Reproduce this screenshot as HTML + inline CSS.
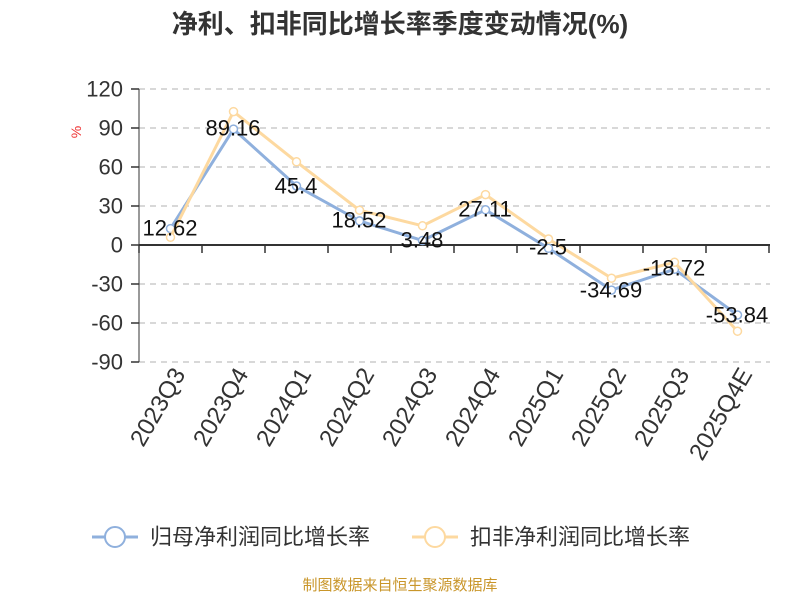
<!DOCTYPE html>
<html><head><meta charset="utf-8"><style>body{margin:0;background:#fff}svg{display:block}</style></head><body>
<svg width="800" height="600" xmlns="http://www.w3.org/2000/svg" font-family="Liberation Sans, Noto Sans CJK SC, sans-serif">
<text x="400" y="33" text-anchor="middle" font-size="26" font-weight="bold" fill="#333">净利、扣非同比增长率季度变动情况(%)</text>
<g stroke="#ccc" stroke-dasharray="6,5" stroke-width="1.5">
<line x1="139" x2="770" y1="89" y2="89"/><line x1="139" x2="770" y1="128" y2="128"/><line x1="139" x2="770" y1="167" y2="167"/><line x1="139" x2="770" y1="206" y2="206"/><line x1="139" x2="770" y1="284" y2="284"/><line x1="139" x2="770" y1="323" y2="323"/><line x1="139" x2="770" y1="362" y2="362"/>
</g>
<line x1="139" y1="89" x2="139" y2="362" stroke="#333" stroke-width="1"/>
<line x1="139" y1="245" x2="770" y2="245" stroke="#333" stroke-width="2"/>
<g stroke="#333" stroke-width="1.5">
<line x1="139" x2="139" y1="245" y2="253"/><line x1="202" x2="202" y1="245" y2="253"/><line x1="265" x2="265" y1="245" y2="253"/><line x1="328" x2="328" y1="245" y2="253"/><line x1="391" x2="391" y1="245" y2="253"/><line x1="454" x2="454" y1="245" y2="253"/><line x1="517" x2="517" y1="245" y2="253"/><line x1="580" x2="580" y1="245" y2="253"/><line x1="643" x2="643" y1="245" y2="253"/><line x1="706" x2="706" y1="245" y2="253"/><line x1="769" x2="769" y1="245" y2="253"/>
<line x1="131" x2="139" y1="89" y2="89"/><line x1="131" x2="139" y1="128" y2="128"/><line x1="131" x2="139" y1="167" y2="167"/><line x1="131" x2="139" y1="206" y2="206"/><line x1="131" x2="139" y1="245" y2="245"/><line x1="131" x2="139" y1="284" y2="284"/><line x1="131" x2="139" y1="323" y2="323"/><line x1="131" x2="139" y1="362" y2="362"/>
</g>
<g font-size="22" fill="#333" text-anchor="end" dominant-baseline="central">
<text x="123" y="89">120</text><text x="123" y="128">90</text><text x="123" y="167">60</text><text x="123" y="206">30</text><text x="123" y="245">0</text><text x="123" y="284">-30</text><text x="123" y="323">-60</text><text x="123" y="362">-90</text>
</g>
<text transform="translate(76,132) rotate(-90)" font-size="14" fill="#e33" text-anchor="middle" dominant-baseline="central">%</text>
<g font-size="24" fill="#333" text-anchor="end">
<text transform="translate(186,374) rotate(-60)">2023Q3</text>
<text transform="translate(249,374) rotate(-60)">2023Q4</text>
<text transform="translate(312,374) rotate(-60)">2024Q1</text>
<text transform="translate(375,374) rotate(-60)">2024Q2</text>
<text transform="translate(438,374) rotate(-60)">2024Q3</text>
<text transform="translate(501,374) rotate(-60)">2024Q4</text>
<text transform="translate(564,374) rotate(-60)">2025Q1</text>
<text transform="translate(627,374) rotate(-60)">2025Q2</text>
<text transform="translate(690,374) rotate(-60)">2025Q3</text>
<text transform="translate(753,374) rotate(-60)">2025Q4E</text>
</g>
<g fill="#fff" stroke-width="3">
<polyline fill="none" stroke="#8fb0dd" points="170.5,228.6 233.5,129.1 296.5,186 359.5,220.9 422.5,240.5 485.5,209.8 548.5,248.3 611.5,290.1 674.5,269.3 737.5,315"/>
<g stroke="#8fb0dd" stroke-width="1.5"><circle cx="170.5" cy="228.6" r="4"/><circle cx="233.5" cy="129.1" r="4"/><circle cx="296.5" cy="186" r="4"/><circle cx="359.5" cy="220.9" r="4"/><circle cx="422.5" cy="240.5" r="4"/><circle cx="485.5" cy="209.8" r="4"/><circle cx="548.5" cy="248.3" r="4"/><circle cx="611.5" cy="290.1" r="4"/><circle cx="674.5" cy="269.3" r="4"/><circle cx="737.5" cy="315" r="4"/></g>
<polyline fill="none" stroke="#fdd9a0" points="170.5,237.3 233.5,111.6 296.5,161.8 359.5,210.2 422.5,225.8 485.5,194.6 548.5,239 611.5,278.2 674.5,262.3 737.5,331.2"/>
<g stroke="#fdd9a0" stroke-width="1.5"><circle cx="170.5" cy="237.3" r="4"/><circle cx="233.5" cy="111.6" r="4"/><circle cx="296.5" cy="161.8" r="4"/><circle cx="359.5" cy="210.2" r="4"/><circle cx="422.5" cy="225.8" r="4"/><circle cx="485.5" cy="194.6" r="4"/><circle cx="548.5" cy="239" r="4"/><circle cx="611.5" cy="278.2" r="4"/><circle cx="674.5" cy="262.3" r="4"/><circle cx="737.5" cy="331.2" r="4"/></g>
</g>
<g font-size="22" fill="#111" text-anchor="middle" dominant-baseline="central">
<text x="170" y="228">12.62</text><text x="233" y="128">89.16</text><text x="296" y="186">45.4</text><text x="359" y="220">18.52</text><text x="422" y="240">3.48</text><text x="485" y="209">27.11</text><text x="548" y="247">-2.5</text><text x="611" y="290">-34.69</text><text x="674" y="268">-18.72</text><text x="737" y="315">-53.84</text>
</g>
<line x1="92" x2="138" y1="537" y2="537" stroke="#8fb0dd" stroke-width="3"/>
<circle cx="115" cy="537" r="10" fill="#fff" stroke="#8fb0dd" stroke-width="2"/>
<text x="150" y="537" font-size="22" fill="#333" dominant-baseline="central">归母净利润同比增长率</text>
<line x1="412" x2="458" y1="537" y2="537" stroke="#fdd9a0" stroke-width="3"/>
<circle cx="435" cy="537" r="10" fill="#fff" stroke="#fdd9a0" stroke-width="2"/>
<text x="470" y="537" font-size="22" fill="#333" dominant-baseline="central">扣非净利润同比增长率</text>
<text x="400" y="590" font-size="15" fill="#c9962a" text-anchor="middle">制图数据来自恒生聚源数据库</text>
</svg>
</body></html>
